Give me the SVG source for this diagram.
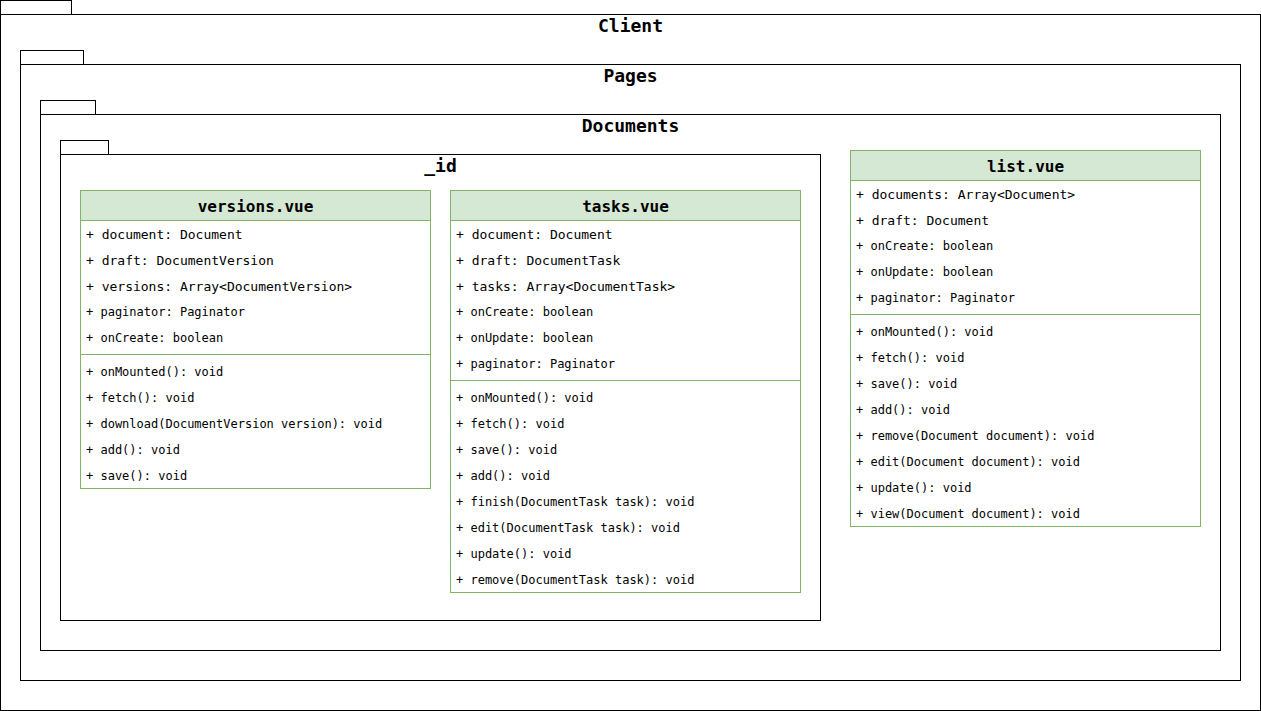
<svg xmlns="http://www.w3.org/2000/svg" width="1261" height="711" viewBox="0 0 1261 711">
<style>
.pkg{fill:#fff;stroke:#000;stroke-width:1}
.ptitle{font-family:"DejaVu Sans Mono",monospace;font-weight:bold;font-size:18px;text-anchor:middle;fill:#000}
.cls{fill:#fff;stroke:#82b366;stroke-width:1}
.hdr{fill:#d5e8d4;stroke:#82b366;stroke-width:1}
.div{stroke:#82b366;stroke-width:1}
.ctitle{font-family:"DejaVu Sans Mono",monospace;font-weight:bold;font-size:16px;text-anchor:middle;fill:#000}
.a{font-family:"DejaVu Sans Mono",monospace;font-size:13px;fill:#000}
.b{font-family:"DejaVu Sans Mono",monospace;font-size:12px;fill:#000}
</style>
<rect width="1261" height="711" fill="#fff"/>
<g id="client">
<rect class="pkg" x="0.5" y="0.5" width="71" height="14"/>
<rect class="pkg" x="0.5" y="14.5" width="1260" height="696"/>
<text class="ptitle" x="630.5" y="32">Client</text>
</g>
<g id="pages">
<rect class="pkg" x="20.5" y="50.5" width="63" height="14"/>
<rect class="pkg" x="20.5" y="64.5" width="1220" height="616"/>
<text class="ptitle" x="630.5" y="82">Pages</text>
</g>
<g id="documents">
<rect class="pkg" x="40.5" y="100.5" width="55" height="14"/>
<rect class="pkg" x="40.5" y="114.5" width="1180" height="536"/>
<text class="ptitle" x="630.5" y="132">Documents</text>
</g>
<g id="id">
<rect class="pkg" x="60.5" y="140.5" width="48" height="14"/>
<rect class="pkg" x="60.5" y="154.5" width="760" height="466"/>
<text class="ptitle" x="440.5" y="172">_id</text>
</g>
<g id="versions">
<rect class="cls" x="80.5" y="190.5" width="350" height="298"/>
<rect class="hdr" x="80.5" y="190.5" width="350" height="30"/>
<text class="ctitle" x="255.5" y="212">versions.vue</text>
<text class="a" x="86" y="239">+ document: Document</text>
<text class="a" x="86" y="265">+ draft: DocumentVersion</text>
<text class="a" x="86" y="291">+ versions: Array&lt;DocumentVersion&gt;</text>
<text class="b" x="86" y="316">+ paginator: Paginator</text>
<text class="b" x="86" y="342">+ onCreate: boolean</text>
<line class="div" x1="80.5" y1="354.5" x2="430.5" y2="354.5"/>
<text class="b" x="86" y="376">+ onMounted(): void</text>
<text class="b" x="86" y="402">+ fetch(): void</text>
<text class="b" x="86" y="428">+ download(DocumentVersion version): void</text>
<text class="b" x="86" y="454">+ add(): void</text>
<text class="b" x="86" y="480">+ save(): void</text>
</g>
<g id="tasks">
<rect class="cls" x="450.5" y="190.5" width="350" height="402"/>
<rect class="hdr" x="450.5" y="190.5" width="350" height="30"/>
<text class="ctitle" x="625.5" y="212">tasks.vue</text>
<text class="a" x="456" y="239">+ document: Document</text>
<text class="a" x="456" y="265">+ draft: DocumentTask</text>
<text class="a" x="456" y="291">+ tasks: Array&lt;DocumentTask&gt;</text>
<text class="b" x="456" y="316">+ onCreate: boolean</text>
<text class="b" x="456" y="342">+ onUpdate: boolean</text>
<text class="b" x="456" y="368">+ paginator: Paginator</text>
<line class="div" x1="450.5" y1="380.5" x2="800.5" y2="380.5"/>
<text class="b" x="456" y="402">+ onMounted(): void</text>
<text class="b" x="456" y="428">+ fetch(): void</text>
<text class="b" x="456" y="454">+ save(): void</text>
<text class="b" x="456" y="480">+ add(): void</text>
<text class="b" x="456" y="506">+ finish(DocumentTask task): void</text>
<text class="b" x="456" y="532">+ edit(DocumentTask task): void</text>
<text class="b" x="456" y="558">+ update(): void</text>
<text class="b" x="456" y="584">+ remove(DocumentTask task): void</text>
</g>
<g id="list">
<rect class="cls" x="850.5" y="150.5" width="350" height="376"/>
<rect class="hdr" x="850.5" y="150.5" width="350" height="30"/>
<text class="ctitle" x="1025.5" y="172">list.vue</text>
<text class="a" x="856" y="199">+ documents: Array&lt;Document&gt;</text>
<text class="a" x="856" y="225">+ draft: Document</text>
<text class="b" x="856" y="250">+ onCreate: boolean</text>
<text class="b" x="856" y="276">+ onUpdate: boolean</text>
<text class="b" x="856" y="302">+ paginator: Paginator</text>
<line class="div" x1="850.5" y1="314.5" x2="1200.5" y2="314.5"/>
<text class="b" x="856" y="336">+ onMounted(): void</text>
<text class="b" x="856" y="362">+ fetch(): void</text>
<text class="b" x="856" y="388">+ save(): void</text>
<text class="b" x="856" y="414">+ add(): void</text>
<text class="b" x="856" y="440">+ remove(Document document): void</text>
<text class="b" x="856" y="466">+ edit(Document document): void</text>
<text class="b" x="856" y="492">+ update(): void</text>
<text class="b" x="856" y="518">+ view(Document document): void</text>
</g>
<g id="connectors"></g>
</svg>
